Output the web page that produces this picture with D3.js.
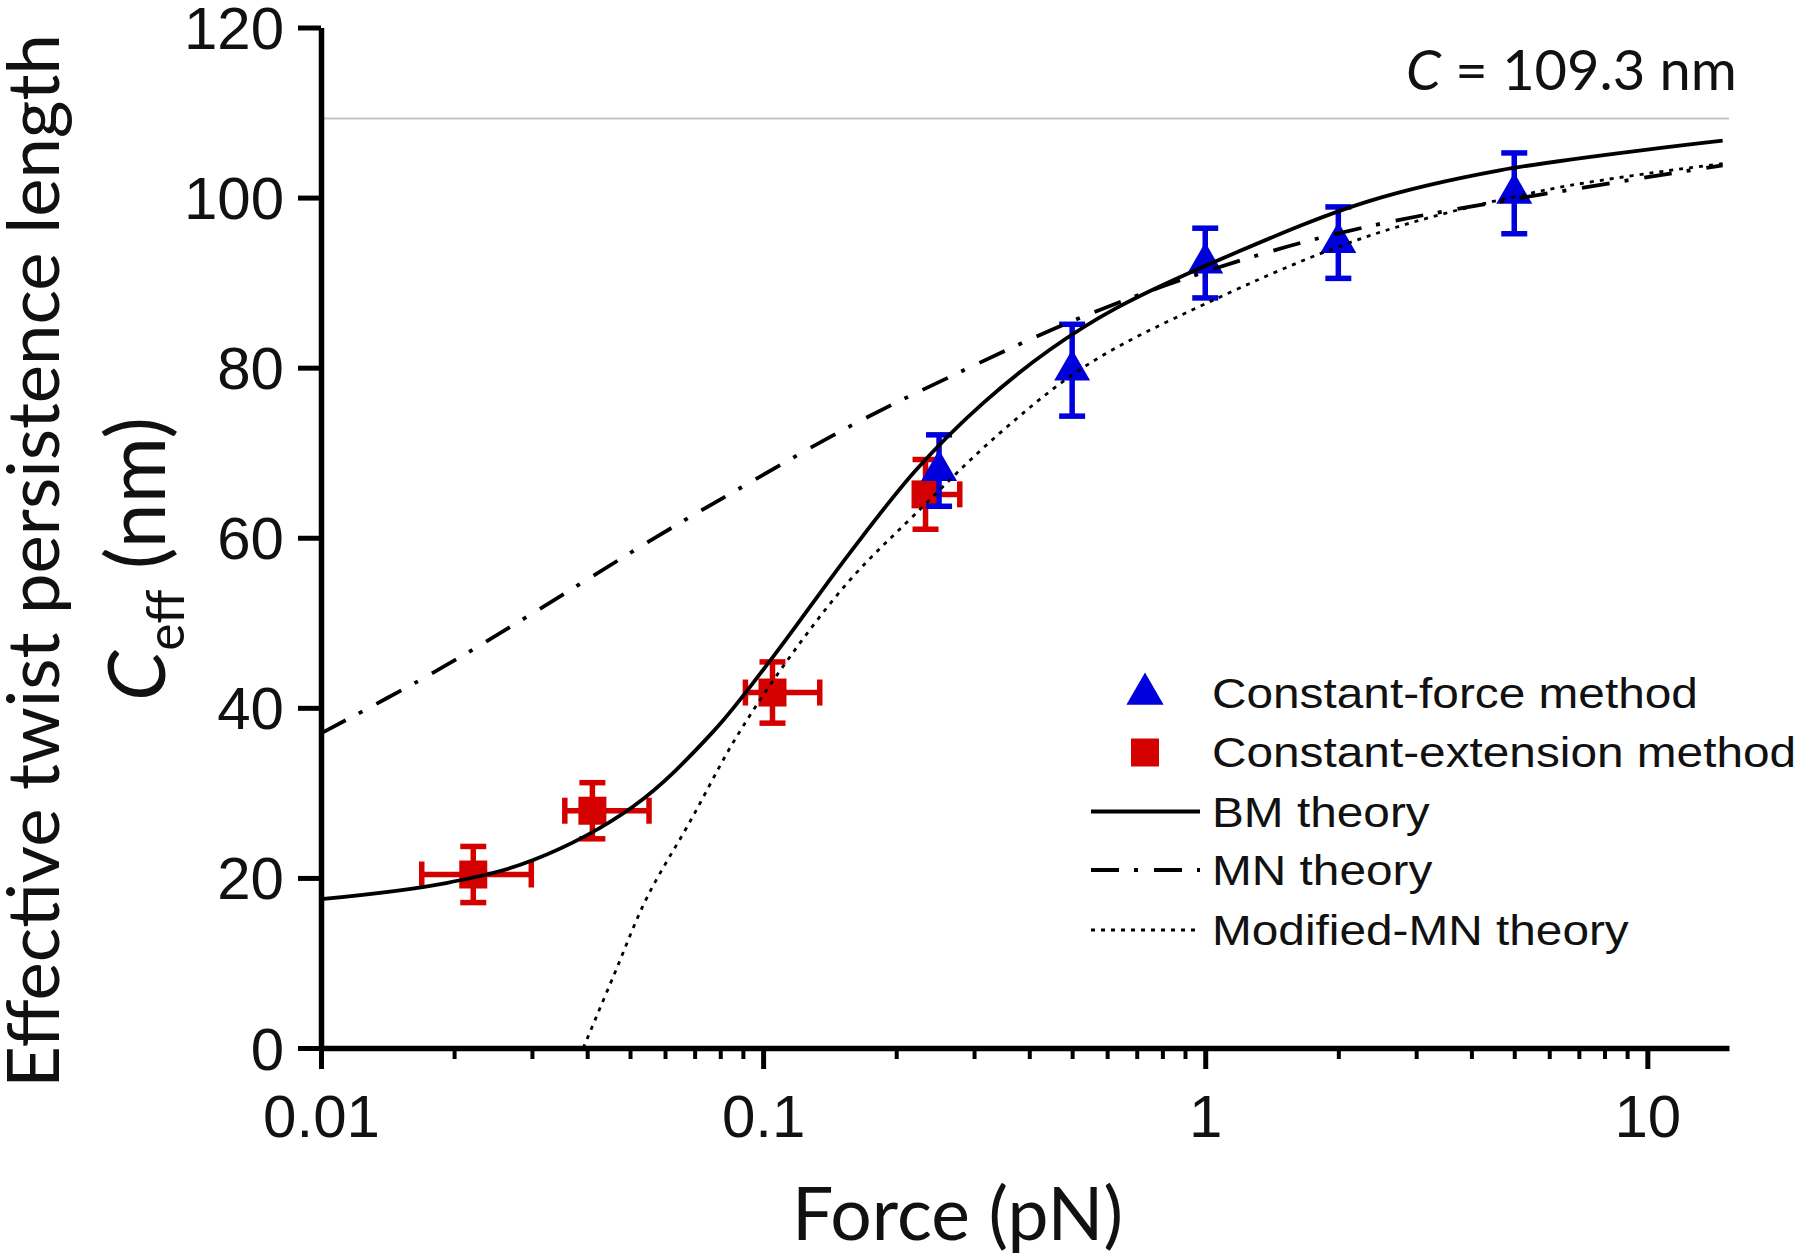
<!DOCTYPE html>
<html><head><meta charset="utf-8">
<script src="https://cdn.jsdelivr.net/npm/d3@7"></script>
<style>html,body{margin:0;padding:0;background:#fff}svg{display:block}</style>
</head><body>
<script>
// ---- data ----
const xTickValues = [0.01, 0.1, 1, 10];
const xTickLabels = ["0.01", "0.1", "1", "10"];
const yTickValues = [0, 20, 40, 60, 80, 100, 120];
const cRef = 109.3;

// Constant-force method (blue triangles)
const cfForce = [0.25, 0.5, 1, 2, 5];
const cfCeff  = [67.9, 79.7, 92.3, 94.7, 100.5];
const cfErr   = [4.2, 5.4, 4.1, 4.2, 4.75];

// Constant-extension method (red squares)
const ceForce      = [0.0221, 0.0411, 0.105, 0.233];
const ceCeff       = [20.4, 27.9, 41.8, 65.1];
const ceErr        = [3.3, 3.3, 3.6, 4.1];
const ceForceMinus = [0.0052, 0.0055, 0.0138, 0.012];
const ceForcePlus  = [0.0078, 0.0141, 0.0293, 0.0455];

// BM theory (solid)
const bmForce = [0.01, 0.0192, 0.0302, 0.0508, 0.0771, 0.1053, 0.157, 0.222, 0.314, 0.445, 0.629, 1.158, 2.317, 4.635, 14.8];
const bmCeff  = [17.5, 19.4, 22.1, 28.4, 37.2, 46.0, 58.2, 68.0, 75.8, 82.1, 87.0, 93.4, 99.5, 103.2, 106.7];

// MN theory (dash-dot)
const mnForce = [0.01, 0.0179, 0.0292, 0.0574, 0.0871, 0.157, 0.264, 0.529, 1.2, 2.535, 14.8];
const mnCeff  = [37.0, 44.1, 50.7, 60.1, 65.6, 73.1, 78.9, 86.0, 92.6, 97.0, 103.8];

// Modified-MN theory (dotted)
const mmnForce = [0.0392, 0.046, 0.0545, 0.0683, 0.0871, 0.115, 0.157, 0.222, 0.343, 0.54, 1.0, 2.317, 5.9, 14.8];
const mmnCeff  = [0, 8.6, 17.6, 26.6, 36.6, 46.0, 55.0, 62.9, 72.3, 80.3, 87.5, 95.4, 100.9, 104.0];

const legendLabels = ["Constant-force method", "Constant-extension method", "BM theory", "MN theory", "Modified-MN theory"];

// ---- drawing ----
const W = 1800, H = 1255;
const BLUE = "#0000dc", RED = "#d40000";
const numFont = "'Liberation Sans', Arial, sans-serif";
const titleFont = "Lato, 'Open Sans', sans-serif";

const svg = d3.select("body").append("svg").attr("width", W).attr("height", H);

const x = d3.scaleLog().domain([0.01, 15.3]).range([321, 1729]);
const y = d3.scaleLinear().domain([0, 120]).range([1048, 27.5]);

function fit(sel, target) {
  const len = sel.node().getComputedTextLength();
  const fs = parseFloat(sel.attr("font-size"));
  sel.attr("font-size", fs * target / len);
}

// reference line C = 109.3
svg.append("line")
  .attr("x1", x.range()[0]).attr("x2", x.range()[1])
  .attr("y1", y(cRef)).attr("y2", y(cRef))
  .attr("stroke", "#c4c4c4").attr("stroke-width", 2.2);

// axes
const minorVals = x.ticks().filter(v => Math.abs(Math.log10(v) - Math.round(Math.log10(v))) > 1e-6);
const gxMinor = svg.append("g").attr("transform", `translate(0,${y(0)})`)
  .call(d3.axisBottom(x).tickValues(minorVals).tickSize(11).tickSizeOuter(0).tickFormat(""));
gxMinor.select(".domain").remove();
gxMinor.selectAll("line").attr("stroke", "#000").attr("stroke-width", 4);

const gx = svg.append("g").attr("transform", `translate(0,${y(0)})`)
  .call(d3.axisBottom(x).tickValues(xTickValues).tickSize(21).tickSizeOuter(0)
    .tickFormat((d, i) => xTickLabels[i]));
gx.select(".domain").attr("stroke", "#000").attr("stroke-width", 5.5);
gx.selectAll(".tick line").attr("stroke", "#000").attr("stroke-width", 5);
gx.selectAll(".tick text").attr("fill", "#111").attr("font-family", numFont)
  .attr("font-size", 60).attr("y", 88.5).attr("dy", 0);

const gy = svg.append("g").attr("transform", `translate(${x.range()[0]},0)`)
  .call(d3.axisLeft(y).tickValues(yTickValues).tickSize(23).tickSizeOuter(0));
gy.select(".domain").attr("stroke", "#000").attr("stroke-width", 5.5);
gy.selectAll(".tick line").attr("stroke", "#000").attr("stroke-width", 5);
gy.selectAll(".tick text").attr("fill", "#111").attr("font-family", numFont)
  .attr("font-size", 60).attr("x", -37).attr("dy", "0.35em");

// axis titles
const xt = svg.append("text").attr("x", 957.5).attr("y", 1240).attr("text-anchor", "middle")
  .attr("font-family", titleFont).attr("font-size", 70).attr("fill", "#111").text("Force (pN)");
fit(xt, 331);

const yt1 = svg.append("text").attr("transform", "translate(59,561) rotate(-90)")
  .attr("text-anchor", "middle").attr("font-family", titleFont).attr("font-size", 70)
  .attr("fill", "#111").text("Effective twist persistence length");
fit(yt1, 1054);

const yt2 = svg.append("text").attr("transform", "translate(165,559) rotate(-90)")
  .attr("text-anchor", "middle").attr("font-family", titleFont).attr("font-size", 70)
  .attr("fill", "#111");
yt2.append("tspan").attr("font-style", "italic").text("C");
yt2.append("tspan").style("font-size", "0.64em").attr("dy", "0.37em").text("eff");
yt2.append("tspan").attr("dy", "-0.237em").text(" (nm)");
fit(yt2, 284);

// annotation
const ann = svg.append("text").attr("x", 1406).attr("y", 90)
  .attr("font-family", titleFont).attr("font-size", 60).attr("fill", "#111");
ann.append("tspan").attr("font-style", "italic").text("C");
ann.append("tspan").text(" = 109.3 nm");
fit(ann, 331);

// error bars + markers
const ebW = 5.5, cap = 26;
const ce = ceForce.map((f, i) => ({f, c: ceCeff[i], e: ceErr[i], m: ceForceMinus[i], p: ceForcePlus[i]}));
const cf = cfForce.map((f, i) => ({f, c: cfCeff[i], e: cfErr[i]}));

const gCe = svg.append("g").attr("stroke", RED).attr("stroke-width", ebW).attr("fill", "none");
ce.forEach(d => {
  const cx = x(d.f), cy = y(d.c);
  gCe.append("line").attr("x1", cx).attr("x2", cx).attr("y1", y(d.c - d.e)).attr("y2", y(d.c + d.e));
  [d.c - d.e, d.c + d.e].forEach(v => gCe.append("line").attr("x1", cx - cap / 2).attr("x2", cx + cap / 2).attr("y1", y(v)).attr("y2", y(v)));
  gCe.append("line").attr("x1", x(d.f - d.m)).attr("x2", x(d.f + d.p)).attr("y1", cy).attr("y2", cy);
  [d.f - d.m, d.f + d.p].forEach(v => gCe.append("line").attr("x1", x(v)).attr("x2", x(v)).attr("y1", cy - cap / 2).attr("y2", cy + cap / 2));
});
svg.append("g").selectAll("path").data(ce).join("path")
  .attr("transform", d => `translate(${x(d.f)},${y(d.c)})`)
  .attr("d", d3.symbol(d3.symbolSquare, 28 * 28)).attr("fill", RED);

const gCf = svg.append("g").attr("stroke", BLUE).attr("stroke-width", ebW).attr("fill", "none");
cf.forEach(d => {
  const cx = x(d.f);
  gCf.append("line").attr("x1", cx).attr("x2", cx).attr("y1", y(d.c - d.e)).attr("y2", y(d.c + d.e));
  [d.c - d.e, d.c + d.e].forEach(v => gCf.append("line").attr("x1", cx - cap / 2).attr("x2", cx + cap / 2).attr("y1", y(v)).attr("y2", y(v)));
});
svg.append("g").selectAll("path").data(cf).join("path")
  .attr("transform", d => `translate(${x(d.f)},${y(d.c)})`)
  .attr("d", d3.symbol(d3.symbolTriangle, 560)).attr("fill", BLUE);

// theory curves
const line = d3.line().x(d => x(d[0])).y(d => y(d[1])).curve(d3.curveCatmullRom.alpha(0.5));
const styles = {
  bm:  {dash: null, w: 3.8},
  mn:  {dash: "28,15,4,16", w: 3.8},
  mmn: {dash: "4,6", w: 2.8}
};
svg.append("path").datum(bmForce.map((f, i) => [f, bmCeff[i]])).attr("d", line)
  .attr("fill", "none").attr("stroke", "#000").attr("stroke-width", styles.bm.w);
svg.append("path").datum(mnForce.map((f, i) => [f, mnCeff[i]])).attr("d", line)
  .attr("fill", "none").attr("stroke", "#000").attr("stroke-width", styles.mn.w).attr("stroke-dasharray", styles.mn.dash);
svg.append("path").datum(mmnForce.map((f, i) => [f, mmnCeff[i]])).attr("d", line)
  .attr("fill", "none").attr("stroke", "#000").attr("stroke-width", styles.mmn.w).attr("stroke-dasharray", styles.mmn.dash);

// legend
const legBase = [708, 766.5, 826.5, 885, 945];
const legTextX = 1212, legMarkX = 1145, legLine = [1091, 1200];
const lg = svg.append("g");
lg.append("path").attr("transform", `translate(${legMarkX},${legBase[0] - 14})`)
  .attr("d", d3.symbol(d3.symbolTriangle, 600)).attr("fill", BLUE);
lg.append("path").attr("transform", `translate(${legMarkX},${legBase[1] - 14})`)
  .attr("d", d3.symbol(d3.symbolSquare, 28 * 28)).attr("fill", RED);
[["bm", 2], ["mn", 3], ["mmn", 4]].forEach(([k, i]) => {
  const l = lg.append("line").attr("x1", legLine[0]).attr("x2", legLine[1])
    .attr("y1", legBase[i] - 15).attr("y2", legBase[i] - 15)
    .attr("stroke", "#000").attr("stroke-width", styles[k].w + 0.4);
  if (styles[k].dash) l.attr("stroke-dasharray", styles[k].dash);
});
const legTexts = legendLabels.map((t, i) => lg.append("text")
  .attr("font-family", numFont).attr("font-size", 43).attr("fill", "#111").text(t));
const sx = 486 / legTexts[0].node().getComputedTextLength();
legTexts.forEach((t, i) => t.attr("transform", `translate(${legTextX},${legBase[i]}) scale(${sx},1)`));
</script>
</body></html>
